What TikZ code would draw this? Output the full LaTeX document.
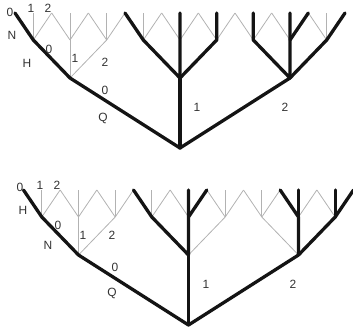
\documentclass[tikz,border=0pt]{standalone}
\usepackage{fontspec}
\setmainfont{Liberation Sans}
\begin{document}
\begin{tikzpicture}[x=1bp,y=-1bp,
  twig/.style={draw=black!30,line width=0.8bp},
  heavy/.style={draw=black!92,line width=3.3bp,line cap=round,line join=round},
  lbl/.style={text=black!80,font=\fontsize{12}{14}\selectfont,inner sep=0pt}]
\useasboundingbox (0,0) rectangle (353,330);
\clip (0,0) rectangle (353,330);
% two ternary trees of depth three; light lines for every branch
\foreach \tr/\ox/\oy in {a/0/0, b/8.5/177} {
  \coordinate (\tr) at (180+\ox,148+\oy);
  \foreach \i in {0,1,2} {
    \coordinate (\tr\i) at ({180+\ox+110*(\i-1)},78+\oy);
    \draw[twig] (\tr) -- (\tr\i);
    \foreach \j in {0,1,2} {
      \coordinate (\tr\i\j) at ({180+\ox+110*(\i-1)+36.7*(\j-1)},40+\oy);
      \draw[twig] (\tr\i) -- (\tr\i\j);
      \foreach \k in {0,1,2} {
        \coordinate (\tr\i\j\k) at ({180+\ox+110*(\i-1)+36.7*(\j-1)+18.3*(\k-1)},13+\oy);
        \draw[twig] (\tr\i\j) -- (\tr\i\j\k);
      }
    }
  }
}
% upper tree: selected branches
\draw[heavy] (a000) -- (a00) -- (a0) -- (a) -- (a2);
\draw[heavy] (a) -- (a1);
\draw[heavy] (a100) -- (a10) -- (a1) -- (a11) -- (a111);
\draw[heavy] (a1) -- (a12) -- (a121);
\draw[heavy] (a201) -- (a20) -- (a2) -- (a21) -- (a211);
\draw[heavy] (a21) -- (a212);
\draw[heavy] (a2) -- (a22) -- (a222);
% lower tree: selected branches
\draw[heavy] (b000) -- (b00) -- (b0) -- (b) -- (b2);
\draw[heavy] (b) -- (b1);
\draw[heavy] (b100) -- (b10) -- (b1) -- (b11) -- (b111);
\draw[heavy] (b11) -- (b112);
\draw[heavy] (b2) -- (b21) -- (b210);
\draw[heavy] (b21) -- (b211);
\draw[heavy] (b2) -- (b22) -- (b222);
\draw[heavy] (b22) -- (b221);
% labels, upper tree
\node[lbl] (ta0) at (10,12) {0};
\node[lbl] (ta1) at (31,8) {1};
\node[lbl] (ta2) at (48,8) {2};
\node[lbl] (tN) at (12,35) {N};
\node[lbl] (tb0) at (49,49) {0};
\node[lbl] (tH) at (27,63) {H};
\node[lbl] (tb1) at (75,58) {1};
\node[lbl] (tb2) at (105,62) {2};
\node[lbl] (tc0) at (105,90) {0};
\node[lbl] (tQ) at (103,118) {Q};
\node[lbl] (tc1) at (197,107) {1};
\node[lbl] (tc2) at (285,107) {2};
% labels, lower tree
\node[lbl] (ba0) at (20,187) {0};
\node[lbl] (ba1) at (40,185) {1};
\node[lbl] (ba2) at (57,185) {2};
\node[lbl] (bH) at (23,210) {H};
\node[lbl] (bb0) at (58,225) {0};
\node[lbl] (bN) at (48,245) {N};
\node[lbl] (bb1) at (83,235) {1};
\node[lbl] (bb2) at (112,235) {2};
\node[lbl] (bc0) at (115,267) {0};
\node[lbl] (bQ) at (112,293) {Q};
\node[lbl] (bc1) at (206,284) {1};
\node[lbl] (bc2) at (293,284) {2};
\end{tikzpicture}
\end{document}
